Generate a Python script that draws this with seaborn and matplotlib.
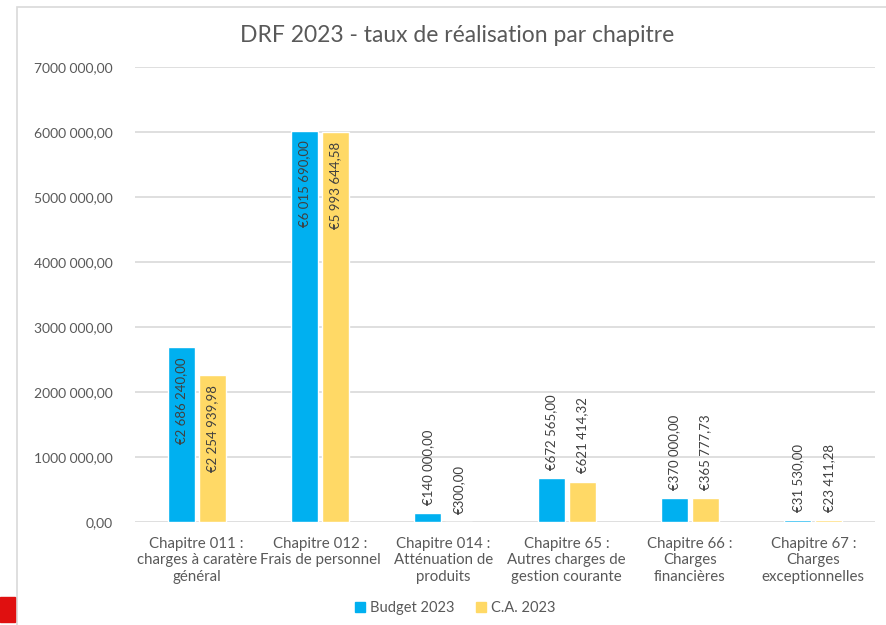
import matplotlib
matplotlib.use("Agg")
import matplotlib.pyplot as plt
import matplotlib.patches as mpatches
import seaborn as sns
import pandas as pd

categories = [
    "Chapitre 011 :\ncharges à caratère\ngénéral",
    "Chapitre 012 :\nFrais de personnel",
    "Chapitre 014 :\nAtténuation de\nproduits",
    "Chapitre 65 :\nAutres charges de\ngestion courante",
    "Chapitre 66 :\nCharges\nfinancières",
    "Chapitre 67 :\nCharges\nexceptionnelles",
]
budget_2023 = [2686240.00, 6015690.00, 140000.00, 672565.00, 370000.00, 31530.00]
ca_2023 = [2254939.98, 5993644.58, 300.00, 621414.32, 365777.73, 23411.28]
series_names = ["Budget 2023", "C.A. 2023"]
ytick_values = [0, 1000000, 2000000, 3000000, 4000000, 5000000, 6000000, 7000000]
ytick_labels = ["0,00", "1000 000,00", "2000 000,00", "3000 000,00", "4000 000,00",
                "5000 000,00", "6000 000,00", "7000 000,00"]
title = "DRF 2023 - taux de réalisation par chapitre"

colors = ["#00B0F0", "#FFD966"]
text_col = "#595959"

df = pd.DataFrame({
    "cat": categories * 2,
    "val": budget_2023 + ca_2023,
    "serie": [series_names[0]] * len(categories) + [series_names[1]] * len(categories),
})

sns.set_theme(style="white")
plt.rcParams["font.family"] = ["Lato", "DejaVu Sans"]

fig = plt.figure(figsize=(8.86, 6.25), dpi=100)
ax = fig.add_axes([135 / 886, 1 - 522 / 625, 740 / 886, (522 - 67) / 625])

sns.barplot(data=df, x="cat", y="val", hue="serie", palette=colors, width=0.5,
            gap=0.12, ax=ax, legend=False, saturation=1, order=categories,
            hue_order=series_names)

ax.set_ylim(0, 7000000)
ax.set_xlim(-0.5, len(categories) - 0.5)
ax.set_yticks(ytick_values)
ax.set_yticklabels(ytick_labels, fontsize=10, color=text_col)
ax.set_xticks(range(len(categories)))
ax.set_xticklabels(categories, fontsize=10.8, color=text_col, linespacing=1.2)
ax.tick_params(axis="both", length=0)
ax.tick_params(axis="y", pad=16)
ax.tick_params(axis="x", pad=11)
ax.set_xlabel("")
ax.set_ylabel("")
for s in ax.spines.values():
    s.set_visible(False)
ax.yaxis.grid(True, color="#D9D9D9", linewidth=1.2)
ax.set_axisbelow(True)


def fmt(v):
    whole = int(v)
    cents = int(round((v - whole) * 100))
    s = f"{whole:,}".replace(",", " ")
    return f"€{s},{cents:02d}"


for container in ax.containers:
    for bar in container:
        h = bar.get_height()
        xc = bar.get_x() + bar.get_width() / 2
        if h > 1500000:
            ax.annotate(fmt(h), (xc, h), xytext=(0, -7), textcoords="offset points",
                        rotation=90, ha="center", va="top", fontsize=9.5, color="#404040")
        else:
            ax.annotate(fmt(h), (xc, h), xytext=(0, 6), textcoords="offset points",
                        rotation=90, ha="center", va="bottom", fontsize=9.5, color="#404040")

fig.text(457 / 886, 1 - 36 / 625, title, ha="center", va="center", fontsize=16.5,
         color=text_col)

handles = [mpatches.Patch(color=c, label=n) for c, n in zip(colors, series_names)]
fig.legend(handles=handles, loc="center", bbox_to_anchor=(455 / 886, 1 - 608 / 625),
           ncol=2, frameon=False, fontsize=10.5, handlelength=0.7, handleheight=0.7,
           handletextpad=0.3, columnspacing=1.5, labelcolor=text_col)

# chart frame and red marker
fig.patches.append(mpatches.Rectangle((17 / 886, -0.02), 1.0, 1 - 7 / 625 + 0.02,
                                      transform=fig.transFigure, fill=False,
                                      edgecolor="#D9D9D9", linewidth=1.2))
fig.patches.append(mpatches.Rectangle((0, 1 - 622 / 625), 15 / 886, 25 / 625,
                                      transform=fig.transFigure, color="#E01010"))

fig.savefig("out.png", dpi=100)
